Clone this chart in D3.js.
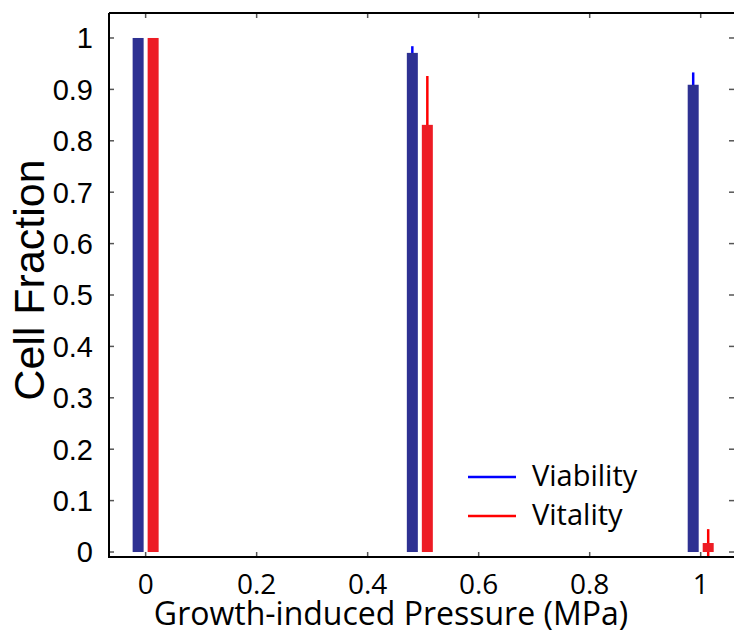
<!DOCTYPE html>
<html>
<head>
  <meta charset="utf-8">
  <title>Cell Fraction</title>
  <script src="https://d3js.org/d3.v7.min.js"></script>
  <style>
    body { margin: 0; background: white; }
  </style>
</head>
<body>
  <script>
    // data
    var pressures = [0, 0.494, 1.0];
    var viability = [1.0, 0.971, 0.909];
    var viabilityErr = [0, 0.013, 0.024];
    var vitality = [1.0, 0.831, 0.0175];
    var vitalityErr = [0, 0.095, 0.027];
    var xTicks = [0, 0.2, 0.4, 0.6, 0.8, 1];
    var yTicks = [0, 0.1, 0.2, 0.3, 0.4, 0.5, 0.6, 0.7, 0.8, 0.9, 1];
    var seriesNames = ['Viability', 'Vitality'];

    var width = 734, height = 633;
    var plotLeft = 109, plotRight = 734, plotTop = 13, plotBottom = 557;
    var barWidth = 11, barOffset = 7.5, tickLen = 5;

    var svg = d3.select('body').append('svg')
      .attr('width', width)
      .attr('height', height);

    var x = d3.scaleLinear().domain([-0.066, 1.06]).range([plotLeft, plotRight]);
    var y = d3.scaleLinear().domain([-0.0097, 1.0486]).range([plotBottom, plotTop]);

    // ticks (inward, on all four sides)
    var tickColor = '#555';
    var g = svg.append('g');
    xTicks.forEach(function(t) {
      g.append('line').attr('x1', x(t)).attr('x2', x(t))
        .attr('y1', plotBottom).attr('y2', plotBottom - tickLen)
        .attr('stroke', tickColor).attr('stroke-width', 1.5);
      g.append('line').attr('x1', x(t)).attr('x2', x(t))
        .attr('y1', plotTop).attr('y2', plotTop + tickLen)
        .attr('stroke', tickColor).attr('stroke-width', 1.5);
    });
    yTicks.forEach(function(t) {
      g.append('line').attr('x1', plotLeft).attr('x2', plotLeft + tickLen)
        .attr('y1', y(t)).attr('y2', y(t))
        .attr('stroke', tickColor).attr('stroke-width', 1.5);
      g.append('line').attr('x1', plotRight).attr('x2', plotRight - tickLen)
        .attr('y1', y(t)).attr('y2', y(t))
        .attr('stroke', tickColor).attr('stroke-width', 1.5);
    });

    // error bars first, then the bars over them
    function drawSeries(values, errs, offset, barColor, errColor) {
      var grp = svg.append('g');
      grp.selectAll('line')
        .data(values)
        .enter()
        .append('line')
        .attr('x1', function(d, i) { return x(pressures[i]) + offset; })
        .attr('x2', function(d, i) { return x(pressures[i]) + offset; })
        .attr('y1', function(d, i) { return y(d - errs[i]); })
        .attr('y2', function(d, i) { return y(d + errs[i]); })
        .attr('stroke', errColor)
        .attr('stroke-width', 2.5);
      grp.selectAll('rect')
        .data(values)
        .enter()
        .append('rect')
        .attr('x', function(d, i) { return x(pressures[i]) + offset - barWidth / 2; })
        .attr('y', function(d) { return y(d); })
        .attr('width', barWidth)
        .attr('height', function(d) { return y(0) - y(d); })
        .attr('fill', barColor);
    }
    drawSeries(viability, viabilityErr, -barOffset, '#2e3192', '#0000ff');
    drawSeries(vitality, vitalityErr, barOffset, '#ed1c24', '#ff0000');

    // frame
    svg.append('path')
      .attr('d', 'M' + plotLeft + ',' + plotTop + 'H' + plotRight +
                 'M' + plotLeft + ',' + plotTop + 'V' + plotBottom + 'H' + plotRight)
      .attr('fill', 'none')
      .attr('stroke', 'black')
      .attr('stroke-width', 2);

    // tick labels
    svg.append('g').selectAll('text')
      .data(yTicks)
      .enter()
      .append('text')
      .attr('x', 93)
      .attr('y', function(d) { return y(d); })
      .attr('dy', '0.36em')
      .attr('text-anchor', 'end')
      .style('font', '29px "Liberation Sans", Arial, sans-serif')
      .text(function(d) { return d3.format('~g')(d); });

    svg.append('g').selectAll('text')
      .data(xTicks)
      .enter()
      .append('text')
      .attr('x', function(d) { return x(d); })
      .attr('y', 594)
      .attr('text-anchor', 'middle')
      .style('font', '28px "Open Sans", sans-serif')
      .text(function(d) { return d3.format('~g')(d); });

    // axis titles
    svg.append('text')
      .attr('x', 391)
      .attr('y', 625)
      .attr('text-anchor', 'middle')
      .style('font', '32px "Open Sans", sans-serif')
      .text('Growth-induced Pressure (MPa)');

    svg.append('text')
      .attr('transform', 'translate(44,280) rotate(-90)')
      .attr('text-anchor', 'middle')
      .style('font', '43px "Liberation Sans", Arial, sans-serif')
      .text('Cell Fraction');

    // legend
    var legendColors = ['#0000ff', '#ff0000'];
    var legendY = [477, 516];
    var legend = svg.append('g').selectAll('g')
      .data(seriesNames)
      .enter()
      .append('g')
      .attr('transform', function(d, i) { return 'translate(468,' + legendY[i] + ')'; });
    legend.append('line')
      .attr('x1', 0).attr('x2', 48)
      .attr('stroke', function(d, i) { return legendColors[i]; })
      .attr('stroke-width', 2.5);
    legend.append('text')
      .attr('x', 64)
      .attr('y', 9)
      .style('font', '29px "Open Sans", sans-serif')
      .text(function(d) { return d; });
  </script>
</body>
</html>
